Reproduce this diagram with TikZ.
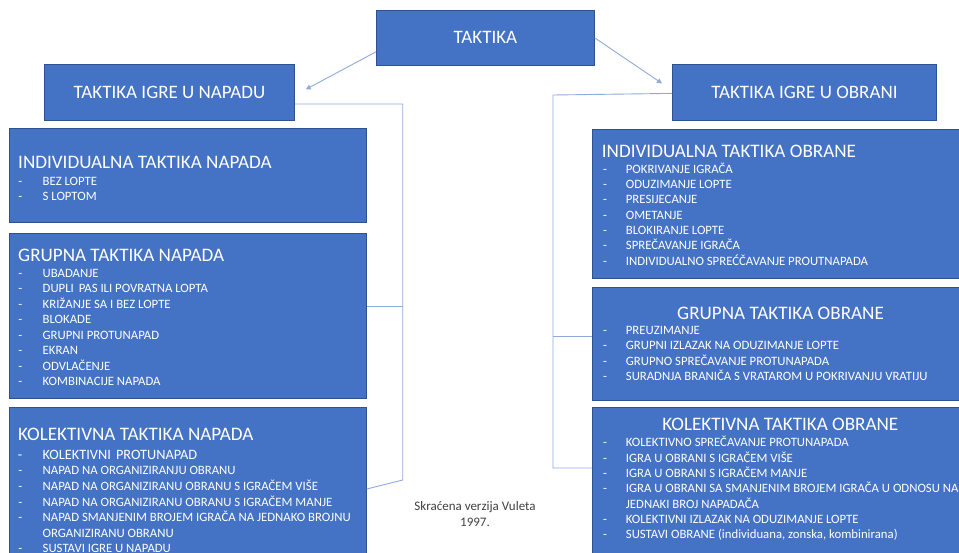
\documentclass[tikz,border=0pt]{standalone}
\usepackage{fontspec}
\setmainfont{Carlito}
\usetikzlibrary{arrows.meta,calc}
\definecolor{boxblue}{HTML}{4472C4}
\definecolor{boxedge}{HTML}{2F528F}
\definecolor{linkblue}{HTML}{8FAADC}
\definecolor{captiongray}{HTML}{404040}
\begin{document}
\begin{tikzpicture}[x=1pt,y=-1pt,
  box/.style={draw=boxedge, line width=0.8pt, fill=boxblue, rectangle, anchor=north west, inner sep=0pt},
  hd/.style={text=white, font=\fontsize{19}{22}\selectfont},
  ttl/.style={text=white, font=\fontsize{19.1}{22}\selectfont, inner sep=0pt, anchor=base west},
  itm/.style={text=white, font=\fontsize{12.75}{15}\selectfont, inner sep=0pt, anchor=base west},
  itmL/.style={itm, execute at begin node={\llap{-\hspace{20.5pt}}}},
  itmR/.style={itm, execute at begin node={\llap{-\hspace{18.8pt}}}},
  link/.style={draw=linkblue, line width=0.9pt},
  tip/.style={-{Triangle[length=5pt,width=5pt]}}
  ]
\useasboundingbox (0,0) rectangle (959,552);
\clip (0,0) rectangle (959,552);

% top level boxes
\node[box, hd, minimum width=218pt, minimum height=55pt] (top) at (376,10) {TAKTIKA};
\node[box, hd, minimum width=250pt, minimum height=56pt] (att) at (44,64) {TAKTIKA IGRE U NAPADU};
\node[box, hd, minimum width=264pt, minimum height=56pt] (def) at (672,64) {TAKTIKA IGRE U OBRANI};

% left boxes
\node[box, minimum width=357pt, minimum height=94pt] (L1) at (9,128) {};
\node[box, minimum width=357pt, minimum height=165pt] (L2) at (9,233) {};
\node[box, minimum width=357pt, minimum height=200pt] (L3) at (9,407) {};
% right boxes
\node[box, minimum width=380pt, minimum height=149pt] (R1) at (592,129) {};
\node[box, minimum width=380pt, minimum height=113pt] (R2) at (592,287) {};
\node[box, minimum width=380pt, minimum height=200pt] (R3) at (592,407) {};

% titles
\node[ttl] (L1t) at (18,168) {INDIVIDUALNA TAKTIKA NAPADA};
\node[ttl] (L2t) at (18,261) {GRUPNA TAKTIKA NAPADA};
\node[ttl] (L3t) at (18,440.3) {KOLEKTIVNA TAKTIKA NAPADA};
\node[ttl] (R1t) at (601.7,157) {INDIVIDUALNA TAKTIKA OBRANE};
\node[ttl, anchor=base] (R2t) at (780.5,319.3) {GRUPNA TAKTIKA OBRANE};
\node[ttl, anchor=base] (R3t) at (780.3,430.3) {KOLEKTIVNA TAKTIKA OBRANE};

% left items
\foreach \t [count=\k] in {BEZ LOPTE, S LOPTOM}
  \node[itmL] (L1-\k) at (42.5,185+15*\k-15) {\t};
\foreach \t [count=\k] in {UBADANJE, DUPLI\hspace{2pt} PAS ILI POVRATNA LOPTA, KRIŽANJE SA I BEZ LOPTE, BLOKADE, GRUPNI PROTUNAPAD, EKRAN, ODVLAČENJE, KOMBINACIJE NAPADA}
  \node[itmL] (L2-\k) at (42.5,277.5+15.45*\k-15.45) {\t};
\node[itmL, font=\fontsize{14.3}{16}\selectfont] (L3-1) at (42.5,459.5) {KOLEKTIVNI\hspace{2pt} PROTUNAPAD};
\node[itmL] (L3-2) at (42.5,474.7) {NAPAD NA ORGANIZIRANJU OBRANU};
\node[itmL] (L3-3) at (42.5,490.7) {NAPAD NA ORGANIZIRANU OBRANU S IGRAČEM VIŠE};
\node[itmL] (L3-4) at (42.5,506) {NAPAD NA ORGANIZIRANU OBRANU S IGRAČEM MANJE};
\node[itmL] (L3-5) at (42.5,521.7) {NAPAD SMANJENIM BROJEM IGRAČA NA JEDNAKO BROJNU};
\node[itm] (L3-5b) at (42.5,537) {ORGANIZIRANU OBRANU};
\node[itmL] (L3-6) at (42.5,552.5) {SUSTAVI IGRE U NAPADU};

% right items
\foreach \t [count=\k] in {POKRIVANJE IGRAČA, ODUZIMANJE LOPTE, PRESIJECANJE, OMETANJE, BLOKIRANJE LOPTE, SPREČAVANJE IGRAČA, INDIVIDUALNO SPREĆČAVANJE PROUTNAPADA}
  \node[itmR] (R1-\k) at (625.7,173.3+15.33*\k-15.33) {\t};
\foreach \t [count=\k] in {PREUZIMANJE, GRUPNI IZLAZAK NA ODUZIMANJE LOPTE, GRUPNO SPREČAVANJE PROTUNAPADA, SURADNJA BRANIČA S VRATAROM U POKRIVANJU VRATIJU}
  \node[itmR] (R2-\k) at (625.7,334+15.55*\k-15.55) {\t};
\node[itmR] (R3-1) at (625.7,446.7) {KOLEKTIVNO SPREČAVANJE PROTUNAPADA};
\node[itmR] (R3-2) at (625.7,462) {IGRA U OBRANI S IGRAČEM VIŠE};
\node[itmR] (R3-3) at (625.7,477.3) {IGRA U OBRANI S IGRAČEM MANJE};
\node[itmR] (R3-4) at (625.7,492.7) {IGRA U OBRANI SA SMANJENIM BROJEM IGRAČA U ODNOSU NA};
\node[itm] (R3-4b) at (625.7,508) {JEDNAKI BROJ NAPADAČA};
\node[itmR] (R3-5) at (625.7,523.3) {KOLEKTIVNI IZLAZAK NA ODUZIMANJE LOPTE};
\node[itmR] (R3-6) at (625.7,538.7) {SUSTAVI OBRANE (individuana, zonska, kombinirana)};

% caption
\node[font=\fontsize{13}{16.7}\selectfont, text=captiongray, align=center] (cap) at (475,514) {Skraćena verzija Vuleta\\1997.};

% arrows from the top box
\coordinate (ltip) at ($(att.east)+(11,-3)$);
\coordinate (rtip) at ($(def.west)+(-10,-9)$);
\draw[link, tip] ($(top.south west)+(0,-14)$) -- (ltip);
\draw[link, tip] (top.east) -- (rtip);

% left bracket connectors
\coordinate (lb1) at (402.7,104);
\coordinate (lb2) at (402.7,306);
\coordinate (lb3) at (402.7,480);
\draw[link] (att.east |- lb1) -- (lb1) -- (lb3) -- ($(L3.north east)+(0,82)$);
\draw[link] (lb2) -- (L2.east |- lb2);

% right bracket connectors
\coordinate (rb1) at (553,95);
\coordinate (rb2) at (553,336);
\coordinate (rb3) at (553,468);
\draw[link] ($(def.west)+(0,1)$) -- (rb1) -- (rb3) -- (R3.west |- rb3);
\draw[link] (rb2) -- (R2.west |- rb2);
\end{tikzpicture}
\end{document}
